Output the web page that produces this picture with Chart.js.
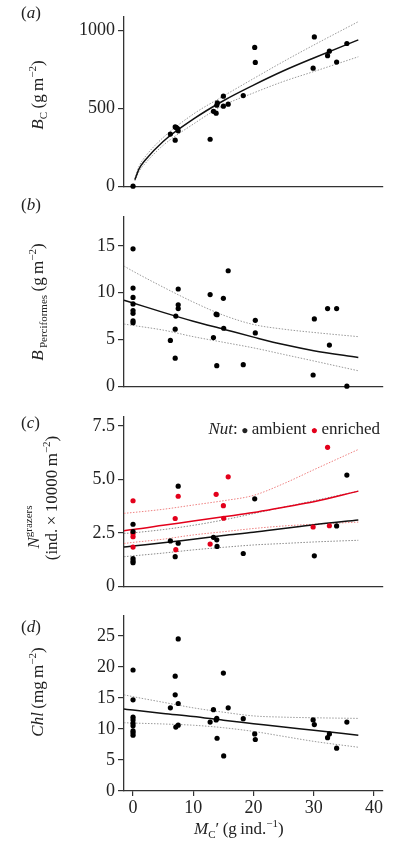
<!DOCTYPE html>
<html>
<head>
<meta charset="utf-8">
<script src="https://cdn.jsdelivr.net/npm/chart.js@4.4.0/dist/chart.umd.min.js"></script>
<style>
  body { margin: 0; background: #fff; }
  #wrap { position: relative; width: 395px; height: 858px; overflow: hidden; font-family: 'Liberation Serif', 'DejaVu Serif', serif; color: #222; }
  canvas { position: absolute; left: 0; }
  .lbl { position: absolute; font-size: 17px; white-space: nowrap; }
  .rot { position: absolute; font-size: 17px; white-space: nowrap; transform: translate(-50%, -50%) rotate(-90deg); }
  sub, sup { font-size: 11px; line-height: 0; }
</style>
</head>
<body>
<div id="wrap">
  <canvas id="chartA" width="395" height="200" style="top:0px"></canvas>
  <canvas id="chartB" width="395" height="200" style="top:200px"></canvas>
  <canvas id="chartC" width="395" height="200" style="top:400px"></canvas>
  <canvas id="chartD" width="395" height="220" style="top:600px"></canvas>

  <div class="lbl" style="left:21px; top:3px">(<i>a</i>)</div>
  <div class="lbl" style="left:21px; top:195px">(<i>b</i>)</div>
  <div class="lbl" style="left:21px; top:413px">(<i>c</i>)</div>
  <div class="lbl" style="left:21px; top:617px">(<i>d</i>)</div>

  <div class="rot" style="left:38px; top:95px"><i>B</i><sub>C</sub>&thinsp;(g&thinsp;m<sup>−2</sup>)</div>
  <div class="rot" style="left:38px; top:302px"><i>B</i><sub>&thinsp;Perciformes</sub>&thinsp;(g&thinsp;m<sup>−2</sup>)</div>
  <div class="rot" style="left:34px; top:527px"><i>N</i><sup>grazers</sup></div>
  <div class="rot" style="left:52px; top:498px">(ind.&thinsp;×&thinsp;10000&thinsp;m<sup>−2</sup>)</div>
  <div class="rot" style="left:38px; top:692px"><i>Chl</i>&thinsp;(mg&thinsp;m<sup>−2</sup>)</div>
  <div class="lbl" style="left:194px; top:819px"><i>M</i><sub>C</sub>′&thinsp;(g&thinsp;ind.<sup>−1</sup>)</div>

  <div class="lbl" style="right:15px; top:419px"><i>Nut</i>:&thinsp;<span style="font-size:12px">●</span>&thinsp;ambient <span style="color:#e3001b;font-size:12px">●</span>&thinsp;enriched</div>
</div>

<script>
const fitX = [-1.5, 0, 5, 10, 15, 20, 25, 30, 37.4];
const fitXA = [0.3, 1, 2, 5, 10, 15, 20, 25, 30, 37.4];

// (a) B_C
const xA = [0, 6.2, 7.0, 7.0, 7.2, 7.4, 7.5, 12.8, 13.35, 13.8, 13.9, 14.0, 15.0, 15.0, 15.8, 18.3, 20.2, 20.3, 30.1, 29.9, 32.6, 32.3, 33.8, 35.5];
const yA = [0, 334, 295, 380, 375, 370, 355, 301, 480, 468, 519, 534, 577, 513, 526, 581, 890, 794, 957, 757, 866, 837, 796, 915];
const fitA = [41, 111, 166, 287, 430, 548, 648, 740, 822, 938];
const upA = [48, 128, 188, 312, 462, 578, 690, 800, 905, 1055];
const loA = [34, 95, 145, 262, 398, 518, 598, 672, 735, 830];
const ticksA = [0, 500, 1000];

// (b) B_Perciformes
const xB = [0, 0, 0, 0, 0, 0, 0, 0, 6.2, 7.0, 7.0, 7.1, 7.5, 7.5, 7.5, 12.8, 13.35, 13.8, 13.95, 13.9, 15.0, 15.05, 15.8, 18.3, 20.3, 20.3, 30.1, 29.9, 32.3, 33.8, 32.6, 35.5];
const yB = [14.7, 10.5, 9.5, 8.8, 8.1, 7.8, 7.0, 6.8, 4.9, 3.0, 6.1, 7.5, 10.4, 8.7, 8.3, 9.8, 5.2, 7.7, 7.65, 2.2, 9.4, 6.2, 12.35, 2.3, 7.05, 5.7, 7.2, 1.2, 8.3, 8.3, 4.4, 0];
const fitB = [9.2, 8.9, 7.9, 6.95, 6.1, 5.25, 4.45, 3.8, 3.07];
const upB = [12.85, 12.3, 10.6, 9.0, 7.6, 6.6, 6.1, 5.75, 5.3];
const loB = [6.65, 6.5, 6.0, 5.3, 4.7, 4.1, 3.4, 2.7, 1.65];
const ticksB = [0, 5, 10, 15];

// (c) N_grazers, ambient and enriched
const xCamb = [0, 0, 0, 0, 0, 6.2, 7.0, 7.5, 7.5, 13.35, 13.9, 13.95, 18.3, 20.2, 30.1, 33.8, 35.5];
const yCamb = [2.9, 2.56, 1.29, 1.18, 1.1, 2.12, 1.38, 4.68, 2.01, 2.29, 2.17, 1.86, 1.53, 4.09, 1.42, 2.82, 5.2];
const xCenr = [0, 0, 0, 0, 7.0, 7.1, 7.5, 12.8, 13.8, 15.0, 15.05, 15.8, 29.9, 32.3, 32.6];
const yCenr = [4.0, 2.47, 2.32, 1.83, 3.17, 1.71, 4.21, 1.97, 4.3, 3.77, 3.18, 5.12, 2.77, 6.5, 2.83];
const fitCamb = [1.83, 1.88, 2.03, 2.2, 2.37, 2.52, 2.7, 2.88, 3.1];
const upCamb = [2.47, 2.5, 2.65, 2.85, 3.1, 3.4, 3.7, 4.0, 4.45];
const loCamb = [1.38, 1.42, 1.55, 1.7, 1.82, 1.93, 2.0, 2.07, 2.15];
const fitCenr = [2.6, 2.65, 2.85, 3.05, 3.25, 3.45, 3.7, 3.95, 4.45];
const upCenr = [3.41, 3.45, 3.6, 3.8, 4.0, 4.25, 4.8, 5.45, 6.4];
const loCenr = [2.0, 2.05, 2.2, 2.4, 2.55, 2.7, 2.82, 2.9, 3.0];
const ticksC = [0, 2.5, 5.0, 7.5];
const tickLabelsC = ['0', '2.5', '5.0', '7.5'];

// (d) Chl
const xD = [0, 0, 0, 0, 0, 0, 0, 0, 0, 6.2, 7.0, 7.0, 7.1, 7.5, 7.5, 7.5, 12.8, 13.35, 13.8, 13.9, 13.95, 15.0, 15.05, 15.8, 18.3, 20.2, 20.3, 29.9, 30.1, 32.6, 32.3, 33.8, 35.5];
const yD = [19.5, 14.7, 11.9, 11.45, 10.9, 10.5, 9.7, 9.4, 9.0, 13.4, 18.5, 15.5, 10.3, 24.5, 14.1, 10.6, 11.1, 13.1, 11.45, 11.7, 8.5, 19.0, 5.65, 13.4, 11.65, 9.2, 8.3, 11.45, 10.7, 9.2, 8.6, 6.9, 11.1];
const fitD = [13.2, 13.05, 12.5, 12.0, 11.4, 10.85, 10.3, 9.8, 9.0];
const upD = [15.5, 15.2, 14.3, 13.4, 12.7, 12.1, 11.9, 11.8, 11.7];
const loD = [11.0, 10.95, 10.8, 10.6, 10.2, 9.6, 8.8, 8.0, 7.05];
const ticksD = [0, 5, 10, 15, 20, 25];
const ticksX = [0, 10, 20, 30, 40];

Chart.defaults.font.family = "'Liberation Serif', 'DejaVu Serif', serif";
Chart.defaults.font.size = 18;
Chart.defaults.color = '#222';

const AXIS = '#333';
const RED = '#e3001b';

function pts(xs, ys) {
    return xs.map(function(x, i) { return { x: x, y: ys[i] }; });
}

function dots(xs, ys, color) {
    return { data: pts(xs, ys), backgroundColor: color, borderWidth: 0, pointRadius: 2.6, showLine: false, clip: false, order: 0 };
}

function curve(xs, ys, color, dotted) {
    return {
        data: pts(xs, ys), showLine: true, pointRadius: 0, borderColor: color, borderWidth: dotted ? 1 : 1.5,
        borderDash: dotted ? [1.5, 1.5] : [], cubicInterpolationMode: 'monotone', fill: false, clip: false, order: dotted ? 2 : 1
    };
}

function makePanel(id, padTop, padBottom, yMax, yTicks, yLabels, datasets, showX) {
    new Chart(document.getElementById(id), {
        type: 'scatter',
        data: { datasets: datasets },
        options: {
            responsive: false,
            devicePixelRatio: 1,
            animation: false,
            events: [],
            layout: { padding: { left: 0, right: 12, top: padTop, bottom: padBottom } },
            plugins: { legend: { display: false }, tooltip: { enabled: false } },
            scales: {
                x: {
                    type: 'linear', min: -1.5, max: 41.5,
                    border: { display: true, color: AXIS, width: 1.3 },
                    grid: { display: showX, drawOnChartArea: false, drawTicks: true, tickLength: 5, color: AXIS, lineWidth: 1.2 },
                    ticks: { display: showX, padding: 1, maxRotation: 0 },
                    afterBuildTicks: function(scale) { scale.ticks = ticksX.map(function(v) { return { value: v }; }); },
                    afterFit: function(scale) { scale.height = showX ? 29 : 0; }
                },
                y: {
                    type: 'linear', min: 0, max: yMax,
                    border: { display: true, color: AXIS, width: 1.3 },
                    grid: { display: true, drawOnChartArea: false, drawTicks: true, tickLength: 6, color: AXIS, lineWidth: 1.2 },
                    ticks: {
                        padding: 3,
                        callback: function(v) {
                            const i = yTicks.indexOf(v);
                            return yLabels ? yLabels[i] : String(v);
                        }
                    },
                    afterBuildTicks: function(scale) { scale.ticks = yTicks.map(function(v) { return { value: v }; }); },
                    afterFit: function(scale) { scale.width = 124; }
                }
            }
        }
    });
}

makePanel('chartA', 17, 8, 1085, ticksA, null, [
    dots(xA, yA, '#000'),
    curve(fitXA, fitA, '#111', false),
    curve(fitXA, upA, '#999', true),
    curve(fitXA, loA, '#999', true)
], false);

makePanel('chartB', 17, 10, 18.1, ticksB, null, [
    dots(xB, yB, '#000'),
    curve(fitX, fitB, '#111', false),
    curve(fitX, upB, '#999', true),
    curve(fitX, loB, '#999', true)
], false);

makePanel('chartC', 17, 9, 7.92, ticksC, tickLabelsC, [
    dots(xCamb, yCamb, '#000'),
    dots(xCenr, yCenr, RED),
    curve(fitX, fitCamb, '#111', false),
    curve(fitX, fitCenr, RED, false),
    curve(fitX, upCamb, '#888', true),
    curve(fitX, loCamb, '#888', true),
    curve(fitX, upCenr, '#ee8080', true),
    curve(fitX, loCenr, '#ee8080', true)
], false);

makePanel('chartD', 16, 0, 28.2, ticksD, null, [
    dots(xD, yD, '#000'),
    curve(fitX, fitD, '#111', false),
    curve(fitX, upD, '#999', true),
    curve(fitX, loD, '#999', true)
], true);
</script>
</body>
</html>
